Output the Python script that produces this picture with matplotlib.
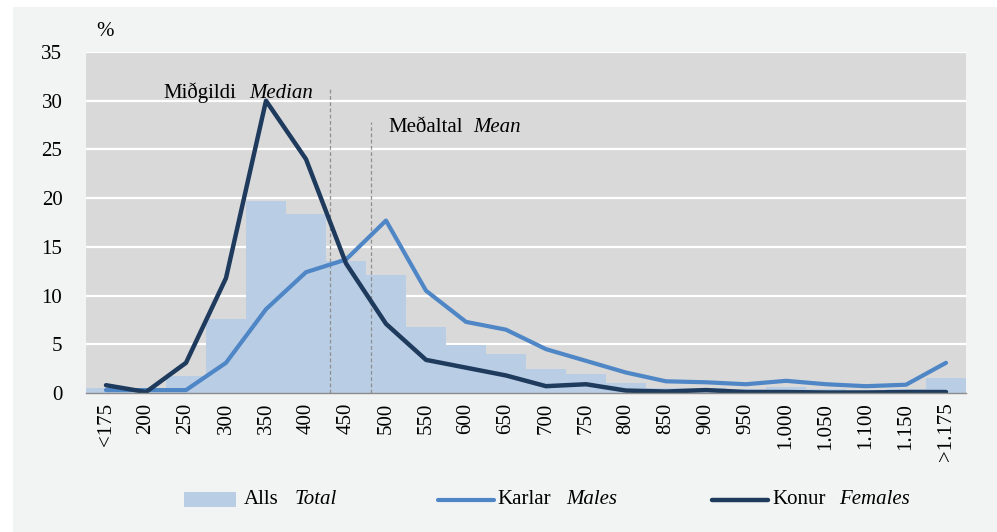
import matplotlib
matplotlib.use("Agg")
import matplotlib.pyplot as plt
from matplotlib.patches import Rectangle
from matplotlib.lines import Line2D
import numpy as np

categories = ['<175', '200', '250', '300', '350', '400', '450', '500', '550', '600',
              '650', '700', '750', '800', '850', '900', '950', '1.000', '1.050',
              '1.100', '1.150', '>1.175']
total = [0.5, 0.5, 1.7, 7.6, 19.7, 18.4, 13.5, 12.1, 6.8, 4.9, 4.0, 2.5, 2.0, 1.0,
         0.5, 0.5, 0.4, 0.65, 0.4, 0.3, 0.4, 1.5]
males = [0.3, 0.3, 0.3, 3.1, 8.6, 12.4, 13.7, 17.7, 10.5, 7.3, 6.5, 4.5, 3.3, 2.1,
         1.2, 1.1, 0.9, 1.25, 0.9, 0.7, 0.85, 3.1]
females = [0.8, 0.1, 3.1, 11.8, 30.0, 24.0, 13.3, 7.1, 3.4, 2.6, 1.8, 0.7, 0.9, 0.25,
           0.15, 0.3, 0.1, 0.1, 0.05, 0.05, 0.1, 0.1]
yticks = [0, 5, 10, 15, 20, 25, 30, 35]
median_pos, median_top = 5.6, 31.4
mean_pos, mean_top = 6.625, 27.8

plt.rcParams['font.family'] = ['Liberation Serif', 'DejaVu Serif']

W, H = 997, 532
FS = 15
fig = plt.figure(figsize=(W / 100, H / 100), dpi=100, facecolor='white')
fig.patches.append(Rectangle((13 / W, 0), 1, 1 - 7 / H, transform=fig.transFigure,
                             facecolor='#F2F3F3', edgecolor='none', zorder=-10))

L, R, T, B = 86, 966, 52, 393
ax = fig.add_axes([L / W, 1 - B / H, (R - L) / W, (B - T) / H])
ax.set_facecolor('#D9D9D9')

x = np.arange(len(categories))
ax.bar(x, total, width=1.0, color='#B9CDE5', zorder=2, linewidth=0)
ax.vlines([median_pos], 0, median_top, colors='#8F8F8F', linestyles=(0, (3, 2)),
          linewidth=0.9, zorder=3)
ax.vlines([mean_pos], 0, mean_top, colors='#8F8F8F', linestyles=(0, (3, 2)),
          linewidth=0.9, zorder=3)
ax.plot(x, males, color='#4F86C6', lw=3.0, zorder=4, solid_capstyle='round')
ax.plot(x, females, color='#1E3A5C', lw=3.2, zorder=5, solid_capstyle='round')

ax.set_xlim(-0.5, len(categories) - 0.5)
ax.set_ylim(0, 35)
ax.set_yticks(yticks)
ax.set_yticklabels([str(v) for v in yticks], fontsize=FS)
ax.set_xticks(x)
ax.set_xticklabels(categories, rotation=90, fontsize=FS, va='top', ha='center')
ax.tick_params(axis='both', length=0)
ax.tick_params(axis='y', pad=17)
ax.tick_params(axis='x', pad=7)
ax.grid(axis='y', color='white', lw=1.6, zorder=1)
ax.set_axisbelow(True)
for s in ['top', 'right', 'left']:
    ax.spines[s].set_visible(False)
ax.spines['bottom'].set_color('#8C8C8C')
ax.spines['bottom'].set_linewidth(1.0)
ax.spines['bottom'].set_zorder(6)


def ftext(px, py, s, italic=False, ha='left'):
    fig.text(px / W, 1 - py / H, s, fontsize=FS, ha=ha, va='center',
             style='italic' if italic else 'normal', zorder=7)


# annotations
ftext(163, 93, 'Miðgildi')
ftext(249, 93, 'Median', italic=True)
ftext(388, 127, 'Meðaltal')
ftext(473, 127, 'Mean', italic=True)

ftext(96, 32, '%')

# legend
ly = 500
fig.patches.append(Rectangle((184 / W, 1 - 507 / H), 52 / W, 15 / H, transform=fig.transFigure,
                             facecolor='#B9CDE5', edgecolor='none'))
ftext(244, ly, 'Alls')
ftext(295, ly, 'Total', italic=True)
fig.add_artist(Line2D([438 / W, 494 / W], [1 - ly / H, 1 - ly / H], transform=fig.transFigure,
                      color='#4F86C6', lw=3.0, solid_capstyle='round'))
ftext(497, ly, 'Karlar')
ftext(566, ly, 'Males', italic=True)
fig.add_artist(Line2D([712 / W, 768 / W], [1 - ly / H, 1 - ly / H], transform=fig.transFigure,
                      color='#1E3A5C', lw=3.2, solid_capstyle='round'))
ftext(772, ly, 'Konur')
ftext(839, ly, 'Females', italic=True)

fig.savefig('out.png', dpi=100, facecolor=fig.get_facecolor())
